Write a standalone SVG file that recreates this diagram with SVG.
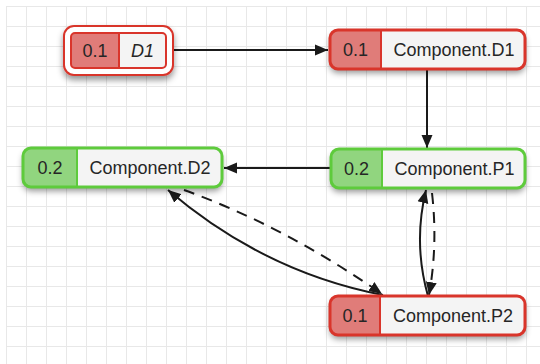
<svg xmlns="http://www.w3.org/2000/svg" width="540" height="364" viewBox="0 0 540 364">
<defs>
<pattern id="grid" x="6" y="6" width="20" height="20" patternUnits="userSpaceOnUse">
<path d="M0.5 0 V20 M0 0.5 H20" fill="none" stroke="#e8e8e8" stroke-width="1"/>
</pattern>
<filter id="sh" x="-10%" y="-30%" width="120%" height="180%">
<feDropShadow dx="0" dy="4" stdDeviation="3" flood-color="#000" flood-opacity="0.42"/>
</filter>
<marker id="ah" markerUnits="userSpaceOnUse" markerWidth="14" markerHeight="12" refX="13" refY="6" orient="auto">
<path d="M0,0.5 L13,6 L0,11.5 z" fill="#1a1a1a"/>
</marker>
</defs>
<style>
.red{stroke:#d9352b}
.grn{stroke:#5ecb3c}
.frame{fill:none;stroke-width:3}
.body{fill:#f4f4f4}
.pink{fill:#e07c79}
.lgrn{fill:#91d57f}
.div{stroke-width:2}
text{font-family:"Liberation Sans",Arial,sans-serif;font-size:18px;fill:#262626;text-anchor:middle}
.edge{fill:none;stroke:#1a1a1a;stroke-width:2;marker-end:url(#ah)}
.dash{stroke-dasharray:11 8}
</style>
<rect x="0" y="0" width="540" height="364" fill="#fff"/>
<rect x="6" y="6" width="534" height="358" fill="url(#grid)"/>

<g id="edges">
<path class="edge" d="M173 50 H328"/>
<path class="edge" d="M427 70 V148"/>
<path class="edge" d="M330 168 H224"/>
<path class="edge" d="M383 295 Q264 272 168 190"/>
<path class="edge dash" d="M184 190 Q284 226 382 294"/>
<path class="edge" d="M428 296 Q413 243 426 190"/>
<path class="edge dash" d="M432 193 Q438 245 429 295"/>
</g>

<g id="node-D1">
<rect x="64" y="26" width="109" height="49" rx="10" fill="#fff" class="red" stroke-width="2" filter="url(#sh)"/>
<rect x="71" y="33" width="95" height="35" rx="4" class="body"/>
<path class="pink" d="M75 33 H119 V68 H75 A4 4 0 0 1 71 64 V37 A4 4 0 0 1 75 33 Z"/>
<line x1="119" y1="33" x2="119" y2="68" class="red div"/>
<rect x="71" y="33" width="95" height="35" rx="4" class="red" fill="none" stroke-width="2"/>
<text x="95" y="57" font-size="17">0.1</text>
<text x="142.5" y="57" font-size="17" font-style="italic">D1</text>
</g>

<g id="node-ComponentD1">
<rect x="330" y="30" width="195" height="39" rx="8" class="body" filter="url(#sh)"/>
<path class="pink" d="M338 30 H381 V69 H338 A8 8 0 0 1 330 61 V38 A8 8 0 0 1 338 30 Z"/>
<line x1="381" y1="30" x2="381" y2="69" class="red div"/>
<rect x="330" y="30" width="195" height="39" rx="8" class="frame red"/>
<text x="355.5" y="56">0.1</text>
<text x="454" y="56">Component.D1</text>
</g>

<g id="node-ComponentP1">
<rect x="331" y="149" width="194" height="39" rx="8" class="body" filter="url(#sh)"/>
<path class="lgrn" d="M339 149 H382 V188 H339 A8 8 0 0 1 331 180 V157 A8 8 0 0 1 339 149 Z"/>
<line x1="382" y1="149" x2="382" y2="188" class="grn div"/>
<rect x="331" y="149" width="194" height="39" rx="8" class="frame grn"/>
<text x="356.5" y="175">0.2</text>
<text x="454.5" y="175">Component.P1</text>
</g>

<g id="node-ComponentD2">
<rect x="23" y="148" width="199" height="39" rx="8" class="body" filter="url(#sh)"/>
<path class="lgrn" d="M31 148 H77 V187 H31 A8 8 0 0 1 23 179 V156 A8 8 0 0 1 31 148 Z"/>
<line x1="77" y1="148" x2="77" y2="187" class="grn div"/>
<rect x="23" y="148" width="199" height="39" rx="8" class="frame grn"/>
<text x="50" y="174">0.2</text>
<text x="150" y="174">Component.D2</text>
</g>

<g id="node-ComponentP2">
<rect x="330" y="296" width="195" height="39" rx="8" class="body" filter="url(#sh)"/>
<path class="pink" d="M338 296 H380 V335 H338 A8 8 0 0 1 330 327 V304 A8 8 0 0 1 338 296 Z"/>
<line x1="380" y1="296" x2="380" y2="335" class="red div"/>
<rect x="330" y="296" width="195" height="39" rx="8" class="frame red"/>
<text x="355" y="322">0.1</text>
<text x="453" y="322">Component.P2</text>
</g>
</svg>
